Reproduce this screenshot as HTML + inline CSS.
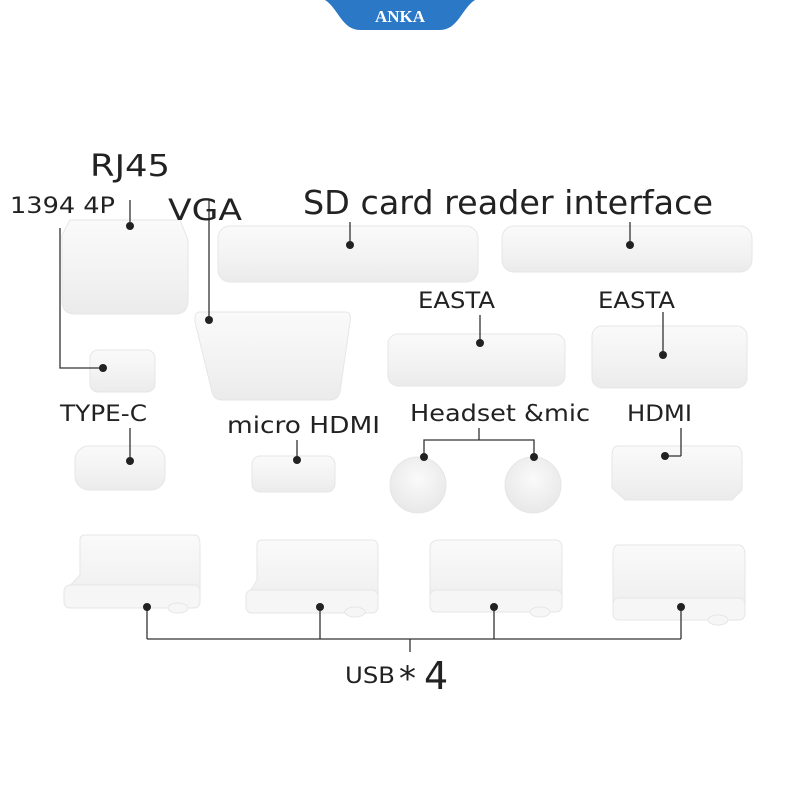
<!DOCTYPE html>
<html><head><meta charset="utf-8"><style>
html,body{margin:0;padding:0;background:#fff;}
svg{display:block}
text{font-family:"DejaVu Sans","Liberation Sans",sans-serif;fill:#222;}
</style></head><body>
<svg width="800" height="800" viewBox="0 0 800 800" xmlns="http://www.w3.org/2000/svg">
<defs>
<linearGradient id="g" x1="0" y1="0" x2="0" y2="1">
<stop offset="0" stop-color="#fafafa"/><stop offset="0.6" stop-color="#f2f2f2"/><stop offset="1" stop-color="#ebebeb"/>
</linearGradient>
<radialGradient id="rg" cx="0.5" cy="0.4" r="0.6">
<stop offset="0" stop-color="#fafafa"/><stop offset="1" stop-color="#e8e8e8"/>
</radialGradient>
</defs>
<rect width="800" height="800" fill="#fff"/>
<path d="M325 0 H475 C462 8 458 30 440 30 H360 C342 30 338 8 325 0 Z" fill="#2a78c6"/>
<text x="400" y="22" text-anchor="middle" style="font-family:'Liberation Serif',serif;font-weight:bold;font-size:17px;fill:#fff">ANKA</text>

<g fill="url(#g)" stroke="#e6e6e6" stroke-width="1">
<path d="M70 220 H180 L188 240 V300 Q188 314 175 314 H75 Q62 314 62 300 V235 Z"/>
<rect x="218" y="226" width="260" height="56" rx="12"/>
<rect x="502" y="226" width="250" height="46" rx="12"/>
<path d="M200 312 H345 Q352 312 350 322 L340 392 Q338 400 330 400 H222 Q214 400 212 392 L195 322 Q194 312 200 312 Z"/>
<rect x="90" y="350" width="65" height="42" rx="8"/>
<rect x="388" y="334" width="177" height="52" rx="10"/>
<rect x="592" y="326" width="155" height="62" rx="10"/>
<rect x="75" y="446" width="90" height="44" rx="14"/>
<rect x="252" y="456" width="83" height="36" rx="8"/>
<path d="M618 446 H735 Q742 446 742 456 V490 L732 500 H625 L612 488 V456 Q612 446 618 446Z"/>
<path d="M85 535 H195 Q200 535 200 545 V600 Q200 608 190 608 H72 Q64 608 64 598 V592 L80 575 V540 Q80 535 85 535Z"/>
<path d="M262 540 H372 Q378 540 378 548 V605 Q378 613 370 613 H252 Q246 613 246 605 V598 L257 580 V545 Q257 540 262 540Z"/>
<path d="M440 540 H555 Q562 540 562 548 V605 Q562 612 555 612 H435 Q430 612 430 604 V548 Q430 540 440 540Z"/>
<path d="M618 545 H738 Q745 545 745 555 V612 Q745 620 735 620 H620 Q613 620 613 612 V555 Q613 545 618 545Z"/>
</g>
<g fill="#f6f6f6" stroke="#e6e6e6">
<rect x="64" y="585" width="136" height="23" rx="6"/>
<rect x="246" y="590" width="132" height="23" rx="6"/>
<rect x="430" y="590" width="132" height="22" rx="6"/>
<rect x="613" y="598" width="132" height="22" rx="6"/>
<ellipse cx="178" cy="608" rx="10" ry="5"/>
<ellipse cx="355" cy="612" rx="10" ry="5"/>
<ellipse cx="540" cy="612" rx="10" ry="5"/>
<ellipse cx="718" cy="620" rx="10" ry="5"/>
</g>
<circle cx="418" cy="485" r="28" fill="url(#rg)" stroke="#e6e6e6"/>
<circle cx="533" cy="485" r="28" fill="url(#rg)" stroke="#e6e6e6"/>

<g stroke="#333" stroke-width="1.3" fill="none">
<line x1="130" y1="200" x2="130" y2="226"/>
<line x1="350" y1="222" x2="350" y2="245"/>
<line x1="630" y1="222" x2="630" y2="245"/>
<line x1="209" y1="200" x2="209" y2="320"/>
<polyline points="60,228 60,368 103,368"/>
<line x1="480" y1="315" x2="480" y2="343"/>
<line x1="663" y1="312" x2="663" y2="355"/>
<line x1="130" y1="428" x2="130" y2="461"/>
<line x1="297" y1="440" x2="297" y2="460"/>
<polyline points="424,457 424,440 534,440 534,457"/>
<line x1="479" y1="428" x2="479" y2="440"/>
<line x1="681" y1="428" x2="681" y2="456"/>
<line x1="147" y1="607" x2="147" y2="639"/>
<line x1="320" y1="607" x2="320" y2="639"/>
<line x1="494" y1="607" x2="494" y2="639"/>
<line x1="681" y1="607" x2="681" y2="639"/>
<line x1="147" y1="639" x2="681" y2="639"/>
<line x1="410" y1="639" x2="410" y2="652"/>
<line x1="665" y1="456" x2="681" y2="456"/>
</g>
<g fill="#222">
<circle cx="130" cy="226" r="4"/>
<circle cx="350" cy="245" r="4"/>
<circle cx="630" cy="245" r="4"/>
<circle cx="209" cy="320" r="4"/>
<circle cx="103" cy="368" r="4"/>
<circle cx="480" cy="343" r="4"/>
<circle cx="663" cy="355" r="4"/>
<circle cx="130" cy="461" r="4"/>
<circle cx="297" cy="460" r="4"/>
<circle cx="424" cy="457" r="4"/>
<circle cx="534" cy="457" r="4"/>
<circle cx="665" cy="456" r="4"/>
<circle cx="147" cy="607" r="4"/>
<circle cx="320" cy="607" r="4"/>
<circle cx="494" cy="607" r="4"/>
<circle cx="681" cy="607" r="4"/>
</g>

<text x="90" y="176" font-size="30" textLength="80" lengthAdjust="spacingAndGlyphs">RJ45</text>
<text x="10" y="213" font-size="22" textLength="105" lengthAdjust="spacingAndGlyphs">1394 4P</text>
<text x="168" y="220" font-size="29" textLength="74" lengthAdjust="spacingAndGlyphs">VGA</text>
<text x="303" y="214" font-size="33" textLength="410" lengthAdjust="spacingAndGlyphs">SD card reader interface</text>
<text x="418" y="308" font-size="22" textLength="77" lengthAdjust="spacingAndGlyphs">EASTA</text>
<text x="598" y="308" font-size="22" textLength="77" lengthAdjust="spacingAndGlyphs">EASTA</text>
<text x="60" y="421" font-size="22" textLength="87" lengthAdjust="spacingAndGlyphs">TYPE-C</text>
<text x="227" y="433" font-size="23" textLength="153" lengthAdjust="spacingAndGlyphs">micro HDMI</text>
<text x="410" y="421" font-size="23" textLength="180" lengthAdjust="spacingAndGlyphs">Headset &amp;mic</text>
<text x="627" y="421" font-size="22" textLength="65" lengthAdjust="spacingAndGlyphs">HDMI</text>
<text x="345" y="683" font-size="22" textLength="50" lengthAdjust="spacingAndGlyphs">USB</text>
<text x="399" y="690" font-size="34">*</text>
<text x="424" y="689" font-size="38">4</text>
</svg>
</body></html>
